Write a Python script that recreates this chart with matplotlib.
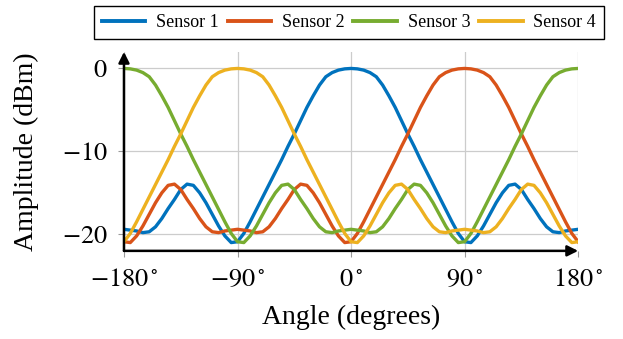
import numpy as np
import matplotlib
matplotlib.use("Agg")
import matplotlib.pyplot as plt

plt.rcParams['font.family'] = 'serif'
plt.rcParams['font.serif'] = ['Liberation Serif', 'DejaVu Serif']
plt.rcParams['mathtext.fontset'] = 'stix'

# angle grid (degrees)
angle = np.arange(-180, 181, 5)

# amplitudes (dBm)
sensor1 = [-19.4, -19.5, -19.6, -19.8, -19.7, -19.1, -18.1, -16.9, -15.8, -14.6, -13.95, -14.1, -15.0,
           -16.2, -17.6, -19.0, -20.2, -21.0, -20.9, -19.9, -18.5, -17.0, -15.5, -14.0, -12.5, -11.0,
           -9.4, -7.9, -6.3, -4.7, -3.3, -2.0, -1.0, -0.5, -0.2, -0.05, 0,
           -0.05, -0.2, -0.5, -1.0, -2.0, -3.3, -4.7, -6.3, -7.9, -9.4, -11.0, -12.5, -14.0, -15.5,
           -17.0, -18.5, -19.9, -20.9, -21.0, -20.2, -19.0, -17.6, -16.2, -15.0, -14.1, -13.95, -14.6,
           -15.8, -16.9, -18.1, -19.1, -19.7, -19.8, -19.6, -19.5, -19.4]
sensor2 = [-20.9, -21.0, -20.2, -19.0, -17.6, -16.2, -15.0, -14.1, -13.95, -14.6, -15.8, -16.9, -18.1,
           -19.1, -19.7, -19.8, -19.6, -19.5, -19.4,
           -19.5, -19.6, -19.8, -19.7, -19.1, -18.1, -16.9, -15.8, -14.6, -13.95, -14.1, -15.0, -16.2,
           -17.6, -19.0, -20.2, -21.0, -20.9, -19.9, -18.5, -17.0, -15.5, -14.0, -12.5, -11.0, -9.4,
           -7.9, -6.3, -4.7, -3.3, -2.0, -1.0, -0.5, -0.2, -0.05, 0,
           -0.05, -0.2, -0.5, -1.0, -2.0, -3.3, -4.7, -6.3, -7.9, -9.4, -11.0, -12.5, -14.0, -15.5,
           -17.0, -18.5, -19.9, -20.9]
sensor3 = [0, -0.05, -0.2, -0.5, -1.0, -2.0, -3.3, -4.7, -6.3, -7.9, -9.4, -11.0, -12.5, -14.0, -15.5,
           -17.0, -18.5, -19.9, -20.9, -21.0, -20.2, -19.0, -17.6, -16.2, -15.0, -14.1, -13.95, -14.6,
           -15.8, -16.9, -18.1, -19.1, -19.7, -19.8, -19.6, -19.5, -19.4,
           -19.5, -19.6, -19.8, -19.7, -19.1, -18.1, -16.9, -15.8, -14.6, -13.95, -14.1, -15.0, -16.2,
           -17.6, -19.0, -20.2, -21.0, -20.9, -19.9, -18.5, -17.0, -15.5, -14.0, -12.5, -11.0, -9.4,
           -7.9, -6.3, -4.7, -3.3, -2.0, -1.0, -0.5, -0.2, -0.05, 0]
sensor4 = [-20.9, -19.9, -18.5, -17.0, -15.5, -14.0, -12.5, -11.0, -9.4, -7.9, -6.3, -4.7, -3.3, -2.0,
           -1.0, -0.5, -0.2, -0.05, 0,
           -0.05, -0.2, -0.5, -1.0, -2.0, -3.3, -4.7, -6.3, -7.9, -9.4, -11.0, -12.5, -14.0, -15.5,
           -17.0, -18.5, -19.9, -20.9, -21.0, -20.2, -19.0, -17.6, -16.2, -15.0, -14.1, -13.95, -14.6,
           -15.8, -16.9, -18.1, -19.1, -19.7, -19.8, -19.6, -19.5, -19.4,
           -19.5, -19.6, -19.8, -19.7, -19.1, -18.1, -16.9, -15.8, -14.6, -13.95, -14.1, -15.0, -16.2,
           -17.6, -19.0, -20.2, -21.0, -20.9]

labels = ['Sensor 1', 'Sensor 2', 'Sensor 3', 'Sensor 4']
colors = ['#0072BD', '#D95319', '#77AC30', '#EDB120']

xticks = [-180, -90, 0, 90, 180]
xticklabels = [r'$-180^\circ$', r'$-90^\circ$', r'$0^\circ$', r'$90^\circ$', r'$180^\circ$']
yticks = [-20, -10, 0]
yticklabels = [r'$-20$', r'$-10$', r'$0$']

fig = plt.figure(figsize=(6.23, 3.39), dpi=100)
ax = fig.add_axes([0.199, 0.26, 0.729, 0.587])

for y, lab, col in zip([sensor1, sensor2, sensor3, sensor4], labels, colors):
    ax.plot(angle, y, color=col, lw=2.4, label=lab, solid_joinstyle='round', zorder=3)

ax.set_xlim(-180, 180)
ax.set_ylim(-22, 2)
ax.set_xticks(xticks)
ax.set_xticklabels(xticklabels, fontsize=19)
ax.set_yticks(yticks)
ax.set_yticklabels(yticklabels, fontsize=19)
ax.tick_params(direction='out', length=4, width=0.8, color='#999999')
ax.tick_params(axis='x', pad=9)
ax.tick_params(axis='y', pad=8)
ax.grid(color='#cccccc', lw=0.9)
ax.set_axisbelow(True)

for s in ax.spines.values():
    s.set_visible(False)

# axis lines with arrow tips
arrow = dict(arrowstyle='-|>', lw=1.8, color='k', mutation_scale=16, shrinkA=0, shrinkB=0)
ax.annotate('', xy=(1.0, 0), xytext=(0, 0), xycoords='axes fraction', arrowprops=arrow, zorder=5)
ax.annotate('', xy=(0, 1.0), xytext=(0, 0), xycoords='axes fraction', arrowprops=arrow, zorder=5)

ax.set_xlabel('Angle (degrees)', fontsize=20, labelpad=10)
ax.set_ylabel('Amplitude (dBm)', fontsize=20, labelpad=16)

leg = fig.legend(loc='center', bbox_to_anchor=(0.56, 0.934), ncol=4, fontsize=13,
                 frameon=True, fancybox=False, edgecolor='k', framealpha=1,
                 handlelength=2.4, handletextpad=0.6, columnspacing=0.5, borderpad=0.45)
for h in leg.get_lines():
    h.set_linewidth(2.8)

fig.savefig('out.png', dpi=100)
